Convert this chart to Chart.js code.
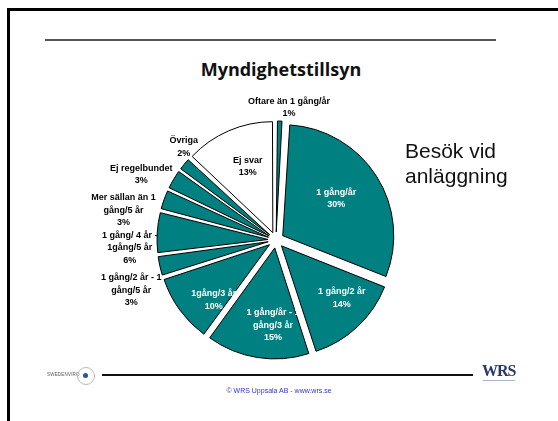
<!DOCTYPE html>
<html><head><meta charset="utf-8">
<script src="https://cdn.jsdelivr.net/npm/chart.js@4.4.1/dist/chart.umd.min.js"></script>
<style>
html,body{margin:0;padding:0;background:#fff;}
#slide{position:relative;width:558px;height:421px;overflow:hidden;background:#fff;}
canvas{position:absolute;left:0;top:0;}
.abs{position:absolute;white-space:nowrap;}
</style></head><body>
<div id="slide">
  <div class="abs" style="left:7px;top:8px;width:600px;height:500px;border-left:3px solid #000;border-top:3px solid #000;"></div>
  <div class="abs" style="left:45px;top:39px;width:451px;height:2px;background:#555;"></div>
  <div class="abs" style="left:0;top:60px;width:562px;text-align:center;font:bold 18px 'Open Sans';line-height:18px;color:#111;">Myndighetstillsyn</div>
  <canvas id="c" width="558" height="421"></canvas>
  <div class="abs" style="left:405px;top:138px;font:21px 'Liberation Sans';line-height:25px;color:#111;">Besök vid<br>anläggning</div>
  <div class="abs" style="left:102px;top:374px;width:371px;height:2px;background:#111;"></div>
  <div class="abs" style="left:47px;top:372px;font:4.5px 'Liberation Sans';color:#555;letter-spacing:0.2px;">SWEDENVIRO</div>
  <div class="abs" style="left:77px;top:367px;width:16px;height:16px;border:1px solid #bbb;border-radius:50%;"></div>
  <div class="abs" style="left:83px;top:373px;width:5px;height:5px;background:#2a4fb0;border-radius:50%;"></div>
  <div class="abs" style="left:482px;top:362px;font:bold 16px 'Liberation Serif';color:#27386a;letter-spacing:-1px;line-height:17px;">WRS</div>
  <div class="abs" style="left:483px;top:380px;width:32px;height:1px;background:#aab4cc;"></div>
  <div class="abs" style="left:0;top:386px;width:558px;text-align:center;font:7px 'Liberation Sans';color:#3333cc;line-height:9px;">© WRS Uppsala AB - www.wrs.se</div>
</div>
<script>
const categories = [
  "Oftare än 1 gång/år",
  "1 gång/år",
  "1 gång/2 år",
  "1 gång/år - 1 gång/3 år",
  "1gång/3 år",
  "1 gång/2 år - 1 gång/5 år",
  "1 gång/ 4 år - 1gång/5 år",
  "Mer sällan än 1 gång/5 år",
  "Ej regelbundet",
  "Övriga",
  "Ej svar"
];
const values = [1, 30, 14, 15, 10, 3, 6, 3, 3, 2, 13];
const labelLines = [
  ["Oftare än 1 gång/år"],
  ["1 gång/år"],
  ["1 gång/2 år"],
  ["1 gång/år - 1", "gång/3 år"],
  ["1gång/3 år"],
  ["1 gång/2 år - 1", "gång/5 år"],
  ["1 gång/ 4 år -", "1gång/5 år"],
  ["Mer sällan än 1", "gång/5 år"],
  ["Ej regelbundet"],
  ["Övriga"],
  ["Ej svar"]
];

// label layout (degrees shift from slice middle, radius factor)
const labelAngleShift = [3.8, -2.3, -5.3, -7, -8, -6.6, -6.7, -8.8, -4.7, 5.7, 2.4];
const labelRadius = [1.2, 0.66, 0.79, 0.77, 0.78, 1.38, 1.32, 1.40, 1.35, 1.18, 0.71];
const sliceFill = ['#008080','#008080','#008080','#008080','#008080','#008080','#008080','#008080','#008080','#008080','#ffffff'];
const labelColor = ['#000','#fff','#fff','#fff','#fff','#000','#000','#000','#000','#000','#000'];
const PIE_RADIUS = 111;
const EXPLODE = 8; // px each slice is pulled out

// Chart.js grows small exploded slices radially; keep all slices on one circle
const evenRadiusPlugin = {
  id: 'evenRadius',
  beforeDatasetsDraw(chart) {
    const meta = chart.getDatasetMeta(0);
    meta.data.forEach(arc => {
      const circ = arc.endAngle - arc.startAngle;
      const fix = 1 - Math.sin(Math.min(Math.PI, circ));
      arc.outerRadius = PIE_RADIUS - EXPLODE * fix;
    });
  }
};

const labelPlugin = {
  id: 'sliceLabels',
  afterDatasetsDraw(chart) {
    const ctx = chart.ctx;
    const meta = chart.getDatasetMeta(0);
    ctx.save();
    ctx.font = 'bold 9px "Liberation Sans"';
    ctx.textAlign = 'center';
    ctx.textBaseline = 'middle';
    meta.data.forEach((arc, i) => {
      const mid = (arc.startAngle + arc.endAngle) / 2 + labelAngleShift[i] * Math.PI / 180;
      const r = PIE_RADIUS * labelRadius[i];
      const x = arc.x + Math.cos(mid) * r;
      const y = arc.y + Math.sin(mid) * r;
      const lines = labelLines[i].concat([values[i] + '%']);
      const lh = 12.5;
      ctx.fillStyle = labelColor[i];
      lines.forEach((t, k) => ctx.fillText(t, x, y + (k - (lines.length - 1) / 2) * lh));
    });
    ctx.restore();
  }
};

new Chart(document.getElementById('c'), {
  type: 'pie',
  data: {
    labels: categories,
    datasets: [{
      data: values,
      backgroundColor: sliceFill,
      borderColor: '#000',
      borderWidth: 1,
      offset: EXPLODE * 4,
      radius: PIE_RADIUS
    }]
  },
  options: {
    responsive: false,
    animation: false,
    events: [],
    layout: { padding: { left: 151, right: 157, top: 115, bottom: 56 } },
    plugins: { legend: { display: false }, tooltip: { enabled: false }, title: { display: false } }
  },
  plugins: [evenRadiusPlugin, labelPlugin]
});
</script>
</body></html>
